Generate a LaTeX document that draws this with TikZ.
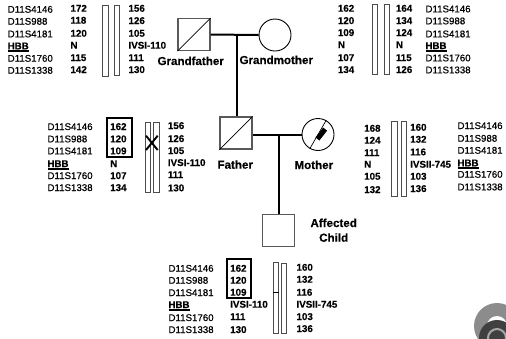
\documentclass[tikz,border=0pt]{standalone}
\usepackage{fontspec}
\setmainfont{Liberation Sans}[BoldFont={Liberation Sans Bold},BoldFeatures={FakeBold=0.25}]
\newfontfamily\labfont[FakeBold=0.6]{Liberation Sans}
\newcommand\hbbmark{\bfseries\setbox0\hbox{HBB}\rlap{\rule[-2.6pt]{\wd0}{1.5pt}}HBB}
\newcommand\colrow[4]{\foreach \yy/\tt [count=\ii] in {#4} {\node[#3] (#1-\ii) at (#2,\yy) {\tt};}}
\tikzset{
  locus/.style={anchor=base west,inner sep=0pt,font=\labfont\fontsize{9.7}{11}\selectfont},
  allele/.style={anchor=base west,inner sep=0pt,font=\bfseries\fontsize{9.8}{11}\selectfont},
  person/.style={anchor=base west,inner sep=0pt,font=\bfseries\fontsize{11.6}{13}\selectfont},
  male/.style={draw=black!65,line width=1.1pt,minimum size=32pt,inner sep=0pt,rectangle},
  female/.style={draw=black,line width=0.9pt,minimum size=32pt,inner sep=0pt,circle},
  link/.style={line width=2pt,black},
  slash/.style={line width=0.7pt,black},
  chrom/.style={draw=black!70,line width=0.9pt,fill=white},
  hapbox/.style={draw=black,line width=1.9pt}
}
\begin{document}
\begin{tikzpicture}[x=1pt,y=-1pt]
\useasboundingbox (0,0) rectangle (506,338);
% corner mark
\begin{scope}
\clip (0,0) rectangle (506,338);
\fill[black!45] (497,326) circle (23);
\fill[white] (497,326) circle (10);
\fill[black!75] (497,338) circle (18);
\draw[black!35,line width=2pt] (497,338) circle (9);
\end{scope}
% people
\node[male] (gf) at (194,34.5) {};
\node[female] (gm) at (275,35) {};
\node[male] (fa) at (236,133) {};
\node[female] (mo) at (318,134.5) {};
\node[male] (ch) at (278.7,230.5) {};
\draw[slash] (gf.south west) -- (gf.north east);
\draw[slash] (fa.south west) -- (fa.north east);
\draw[slash] (mo.240) -- (mo.60);
\fill[black,rotate around={52:(321.3,134)}] (315,131.5) rectangle (327.5,136.5);
% connectors
\coordinate (gpmid) at (237,34.5);
\coordinate (pmid) at (279,134.5);
\draw[link] (gf.east) -- (gm.west);
\draw[link] (gpmid) -- (gpmid |- fa.north);
\draw[link] (fa.east |- pmid) -- (mo.west);
\draw[link] (pmid) -- (pmid |- ch.north);
% names
\node[person] (ngf) at (157.3,65) {Grandfather};
\node[person] (ngm) at (239.3,64) {Grandmother};
\node[person] (nfa) at (217.3,168.7) {Father};
\node[person] (nmo) at (294.3,169) {Mother};
\node[person,anchor=base] (nch1) at (333.7,227) {Affected};
\node[person,anchor=base] (nch2) at (333.7,241.7) {Child};
% chromosomes
\draw[chrom] (102.7,5) rectangle (108.3,76.7);
\draw[chrom] (114,5) rectangle (119,75.3);
\draw[chrom] (372.3,4) rectangle (377.7,74.3);
\draw[chrom] (384,4) rectangle (389.7,74.3);
\draw[chrom] (145,122.3) rectangle (150.3,192.3);
\draw[chrom] (153.7,122.3) rectangle (159,192.3);
\draw[chrom] (391.7,121) rectangle (397,196);
\draw[chrom] (401.3,121) rectangle (406.7,196);
\draw[chrom] (273.3,262.3) rectangle (278.7,333.3);
\draw[chrom] (281.3,263) rectangle (286.7,333.3);
\draw[black,line width=1.2pt] (273.3,292.3) -- (278.7,292.3);
\draw[black,line width=1.9pt] (146,135.7) -- (157.7,150);
\draw[black,line width=1.9pt] (157.7,135.7) -- (146,150);
% haplotype boxes
\draw[hapbox] (106.7,118.3) rectangle (131.7,157.3);
\draw[hapbox] (226.7,259) rectangle (251,298.3);
% grandfather
\colrow{gfl}{7.5}{locus}{12.7/D11S4146,24.7/D11S988,37.3/D11S4181,49.3/\hbbmark,61.7/D11S1760,73.7/D11S1338}
\colrow{gfa}{70.3}{allele}{11.7/172,23.7/118,36.7/120,48.7/N,61/115,73/142}
\colrow{gfb}{128.3}{allele}{11.7/156,24/126,36.7/105,48.7/IVSI-110,61/111,73/130}
% grandmother
\colrow{gma}{337.7}{allele}{11.7/162,24/120,36/109,48/N,61/107,73/134}
\colrow{gmb}{395.7}{allele}{11.7/164,24/134,36/124,48/N,61/115,73/126}
\colrow{gml}{425.3}{locus}{12.3/D11S4146,24.3/D11S988,37.3/D11S4181,49/\hbbmark,61.3/D11S1760,73.3/D11S1338}
% father
\colrow{fal}{47.3}{locus}{130/D11S4146,142.3/D11S988,154.3/D11S4181,167/\hbbmark,179/D11S1760,191/D11S1338}
\colrow{faa}{110}{allele}{130/162,142.3/120,154.3/109,167/N,179/107,191/134}
\colrow{fab}{167.7}{allele}{129/156,142/126,154/105,166/IVSI-110,178/111,191.3/130}
% mother
\colrow{moa}{364}{allele}{131.7/168,143.7/124,156/111,167.7/N,179.7/105,193/132}
\colrow{mob}{410}{allele}{130.7/160,142.7/132,155.3/116,167.7/IVSII-745,179.7/103,192/136}
\colrow{mol}{457.3}{locus}{129/D11S4146,141.7/D11S988,153.7/D11S4181,166.3/\hbbmark,177.7/D11S1760,190.3/D11S1338}
% child
\colrow{chl}{168.3}{locus}{271.7/D11S4146,283.7/D11S988,296/D11S4181,308/\hbbmark,321/D11S1760,333/D11S1338}
\colrow{cha}{230}{allele}{271.7/162,283.7/120,295.7/109,307.7/IVSI-110,320/111,333/130}
\colrow{chb}{296.3}{allele}{270.7/160,282.7/132,295.7/116,307.7/IVSII-745,320/103,332/136}
\end{tikzpicture}
\end{document}
